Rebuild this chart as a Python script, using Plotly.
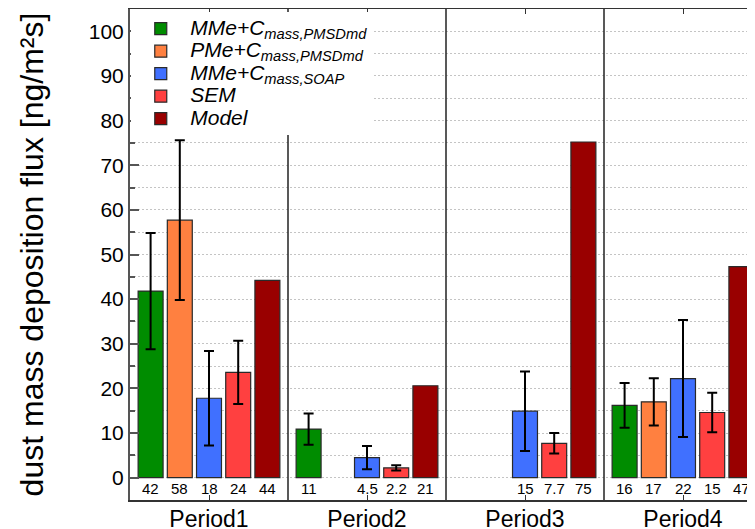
import plotly.graph_objects as go

periods = ["Period1", "Period2", "Period3", "Period4"]
series_names = [
    "MMe+C<sub>mass,PMSDmd</sub>",
    "PMe+C<sub>mass,PMSDmd</sub>",
    "MMe+C<sub>mass,SOAP</sub>",
    "SEM",
    "Model",
]
colors = ["#008c00", "#ff8040", "#4070ff", "#ff4040", "#990000"]

mme_pmsdmd = [41.8, 10.9, None, 16.2]
pme_pmsdmd = [57.7, None, None, 17.0]
mme_soap = [17.8, 4.5, 14.9, 22.2]
sem = [23.6, 2.2, 7.7, 14.6]
model = [44.2, 20.6, 75.2, 47.3]

err_mme_pmsdmd = [13.0, 3.5, None, 5.0]
err_pme_pmsdmd = [17.9, None, None, 5.3]
err_mme_soap = [10.6, 2.6, 8.9, 13.1]
err_sem = [7.1, 0.6, 2.3, 4.4]
err_model = None

values = [mme_pmsdmd, pme_pmsdmd, mme_soap, sem, model]
errors = [err_mme_pmsdmd, err_pme_pmsdmd, err_mme_soap, err_sem, err_model]

y_ticks = list(range(0, 101, 10))

FONT = "Liberation Sans, Arial, sans-serif"
slot = 0.1848
bar_w = 0.158
n = len(values)
xbase = list(range(len(periods)))

fig = go.Figure()
annotations = []
for k, (name, vals, errs, col) in enumerate(zip(series_names, values, errors, colors)):
    xs = [p + (k - (n - 1) / 2) * slot for p in xbase]
    tr = dict(
        x=xs, y=vals, width=bar_w,
        name='<span style="font-size:21px"><i>' + name + '</i></span>',
        marker=dict(color=col, line=dict(color="#2a2a2a", width=1.2)),
    )
    if errs is not None:
        tr["error_y"] = dict(type="data", array=[e if e is not None else 0 for e in errs],
                             symmetric=True, color="black", thickness=2, width=5)
    fig.add_trace(go.Bar(**tr))
    for xv, v in zip(xs, vals):
        if v is None:
            continue
        annotations.append(dict(
            x=xv, y=0, xref="x", yref="y", text=format(v, ".2g"), showarrow=False,
            yanchor="top", yshift=0, font=dict(size=15, color="black", family=FONT),
        ))

shapes = []
for p in xbase[:-1]:
    shapes.append(dict(type="line", xref="x", yref="paper", x0=p + 0.5, x1=p + 0.5,
                       y0=0, y1=1, line=dict(color="#222", width=1.5), layer="above"))

fig.update_layout(
    width=755, height=529,
    margin=dict(l=122, r=1, t=1, b=37),
    paper_bgcolor="white", plot_bgcolor="white",
    font=dict(family=FONT, color="black"),
    barmode="overlay",
    showlegend=True,
    legend=dict(
        x=0.002, y=0.993, xanchor="left", yanchor="top",
        bgcolor="white", borderwidth=0,
        font=dict(size=15, color="black", family=FONT),
        itemwidth=49, tracegroupgap=0,
    ),
    annotations=annotations,
    shapes=shapes,
    xaxis=dict(
        range=[-0.5, 3.5], tickmode="array", tickvals=xbase, ticktext=periods,
        showgrid=False, zeroline=False, showline=True, linecolor="#333", linewidth=1.5,
        mirror="ticks", ticks="inside", ticklen=5, tickcolor="#333", tickwidth=1.2,
        tickfont=dict(size=23), automargin=False, ticklabelstandoff=-2,
    ),
    yaxis=dict(
        range=[-5, 105], tickmode="array", tickvals=y_ticks,
        showgrid=True, gridcolor="#c4c4c4", gridwidth=1, griddash="2px,2px",
        zeroline=False, showline=True, linecolor="#555", linewidth=2,
        ticks="inside", ticklen=9, tickcolor="#555", tickwidth=1.5,
        tickfont=dict(size=21), automargin=False,
        minor=dict(dtick=5, tick0=0, ticks="inside", ticklen=5, tickcolor="#555",
                   showgrid=True, gridcolor="#c4c4c4", gridwidth=1, griddash="2px,2px"),
        title=dict(text="dust mass deposition flux [ng/m²s]", font=dict(size=32), standoff=36),
    ),
)

fig.write_html("out.html")
